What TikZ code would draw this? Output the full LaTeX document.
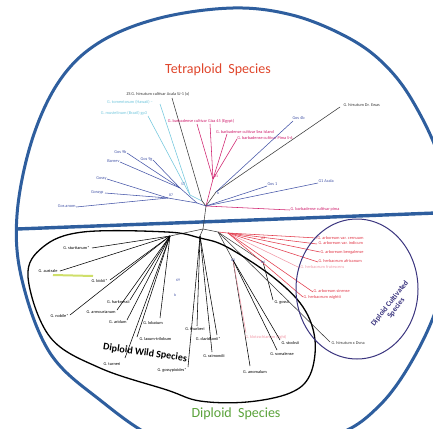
\documentclass[tikz,border=0pt]{standalone}
\usepackage{fontspec}
\setmainfont{Carlito}
\definecolor{bigblue}{HTML}{2E5E9E}
\definecolor{tred}{HTML}{E0462C}
\definecolor{tgreen}{HTML}{5BA33B}
\definecolor{tpurp}{HTML}{3B357F}
\definecolor{tmag}{HTML}{D0206E}
\definecolor{tcyan}{HTML}{72C7DD}
\definecolor{tblue}{HTML}{4555A8}
\definecolor{tgray}{HTML}{3A3A3A}
\definecolor{dred}{HTML}{E23A4A}
\definecolor{tpink}{HTML}{F29AA8}
\definecolor{hlgreen}{HTML}{CFDF6A}
\newcommand\leafx[7]{%
  \coordinate (#1) at (#2);
  \draw[br,draw=#4] (#3) -- (#1);
  \node[lab,text=#4,anchor=#6] (#1t) at (#5) {#7};
}
\begin{document}
\begin{tikzpicture}[x=1pt,y=-1pt,
  br/.style={line width=0.55pt},
  lab/.style={font=\fontsize{4.3}{4.5}\selectfont,inner sep=0.3pt},
  nlab/.style={font=\fontsize{3.8}{4}\selectfont,inner sep=0pt,text=tblue},
  bigline/.style={draw=bigblue,line width=3pt},
  title/.style={font=\fontsize{14}{14}\selectfont}]
\useasboundingbox (0,0) rectangle (433,428);
\clip (0,0) rectangle (433,428);
\fill[white] (0,0) rectangle (433,428);
% outer circle and divider
\draw[bigline] plot[smooth cycle,tension=0.6] coordinates {(233,8) (292,15) (345,36) (382,62) (412,100) (440,160) (450,225) (442,290) (418,350) (380,405) (330,437) (230,455) (160,440) (100,400) (50,353) (22,280) (17,215) (32,140) (60,80) (100,42) (160,18)};
\draw[bigline,line width=3.4pt] (17,229) -- (436,213);
% highlight
\draw[hlgreen,line width=2pt] (53,275) -- (93,276);
% ---------- tree, upper part
\coordinate (T0) at (206,206);
\coordinate (B0) at (203,229);
\coordinate (Tk) at (202,201);
\coordinate (Tc) at (190,195);
\coordinate (Tb1) at (180,188);
\coordinate (Tb2) at (168,198);
\coordinate (Tb) at (197,203);
\coordinate (Tm) at (213,179);
\coordinate (Tr) at (216,192);
\draw[br,tgray] (T0) -- (B0);
\draw[br,tgray] (Tk) -- (T0);
\draw[br,tcyan] (Tc) -- (Tk);
\draw[br,tblue] (Tb1) -- (Tb);
\draw[br,tblue] (Tb2) -- (Tb);
\draw[br,tblue] (Tb) -- (T0);
\draw[br,tmag] (Tm) -- (T0);
\draw[br,tgray] (Tr) -- (T0);
\leafx{k1}{172,98}{Tk}{tgray}{158,94}{center}{ZS G. hirsutum cultivar Acala SJ-1 (x)}
\leafx{c1}{160,104}{Tc}{tcyan}{130,102}{center}{G. tomentosum (Hawaii) --}
\leafx{c2}{148,116}{Tc}{tcyan}{124,113}{center}{G. mustelinum (Brazil) gp3}
\leafx{m1}{197,124}{Tm}{tmag}{201,121}{center}{G. barbadense cultivar Giza 45 (Egypt)}
\coordinate (m2) at (210,124);
\draw[br,tmag] (Tm) -- (m2);
\leafx{m3}{227,134}{Tm}{tmag}{245,132}{center}{G. barbadense cultivar Sea Island}
\leafx{m4}{237,139}{Tm}{tmag}{265,138}{center}{G. barbadense cultivar Pima S-6}
\leafx{b1}{127,153}{Tb1}{tblue}{127,152}{east}{Gos 9b}
\leafx{b2}{120,162}{Tb1}{tblue}{120,161}{east}{Barnev}
\leafx{b3}{153,160}{Tb1}{tblue}{153,159}{east}{Gos 9g}
\leafx{b4}{107,179}{Tb2}{tblue}{107,178}{east}{Gossy}
\leafx{b5}{105,193}{Tb2}{tblue}{104,192}{east}{Gossyp}
\leafx{b6}{76,207}{Tb2}{tblue}{76,206}{east}{Gos anom}
\leafx{r1}{340,107}{Tr}{tgray}{343,105}{west}{G. hirsutum Dr. Ewas}
\leafx{r2}{293,121}{Tr}{tblue}{292,118}{west}{Gos 4b}
\leafx{r3}{267,186}{T0}{tblue}{267,184}{west}{Gos 1}
\leafx{r4}{318,183}{T0}{tblue}{318,181}{west}{G1 Acala}
\leafx{r5}{290,210}{T0}{tmag}{290,209}{west}{G. barbadense cultivar pima}
\node[nlab] (n1) at (183,184) {57};
\node[nlab] (n2) at (171,195) {87};
\node[nlab,text=tmag] (n3) at (216,176) {81};
\node[nlab] (n4) at (218,193) {b};
% ---------- tree, lower part
\coordinate (BL) at (170,236);
\coordinate (BM) at (200,236);
\coordinate (BR) at (218,232);
\coordinate (BRr) at (228,233);
\coordinate (BR2) at (233,260);
\coordinate (BR3) at (263,262);
\draw[br,tgray] (B0) -- (BL);
\draw[br,tgray] (B0) -- (BM);
\draw[br,tgray] (B0) -- (BR);
\draw[br,dred] (BR) -- (BRr);
\draw[br,tgray] (BR) -- (BR2);
\draw[br,tgray] (BR) -- (BR3);
\leafx{d1}{92,248}{BL}{black}{90,248}{east}{G. sturtianum*}
\leafx{d2}{60,271}{BL}{black}{58,271}{east}{G. australe}
\leafx{d3}{110,280}{BL}{black}{108,281}{east}{G. bickii*}
\leafx{d4}{130,300}{BL}{black}{130,302}{east}{G. harknessii}
\leafx{d5}{117,310}{BL}{black}{116,312}{east}{G. armourianum}
\leafx{d6}{70,315}{BL}{black}{69,316}{east}{G. nobile*}
\leafx{d7}{127,320}{BL}{black}{127,322}{east}{G. aridum}
\leafx{d8}{160,318}{BL}{black}{153,323}{center}{G. lobatum}
\leafx{d9}{137,337}{BL}{black}{139,339}{west}{G. laxum-trilobum}
\leafx{d10}{125,358}{BL}{black}{112,364}{center}{G. turneri}
\leafx{d11}{188,367}{BM}{black}{187,370}{east}{G. gossypioides*}
\leafx{e1}{197,326}{BM}{black}{195,329}{center}{G. thurberi}
\leafx{e2}{217,335}{BM}{black}{221,339}{east}{G. davidsonii*}
\leafx{e3}{212,352}{BM}{black}{214,356}{center}{G. raimondii}
\leafx{f1}{250,366}{BR2}{black}{255,372}{center}{G. anomalum}
\leafx{f2}{246,333}{BR2}{tpink}{266,337}{center}{G. klotzschianum (light)}
\leafx{f3}{280,340}{BR2}{black}{281,343}{west}{G. stocksii}
\leafx{f4}{277,350}{BR2}{black}{282,354}{center}{G. somalense}
\leafx{f5}{273,300}{BR3}{black}{274,302}{west}{G. gossii}
\leafx{f6}{330,342}{BR}{tgray}{331,343}{west}{G. hirsutum x Dvna}
\leafx{g1}{317,238}{BRr}{dred}{317,238}{west}{G. arboreum var. cernuum}
\leafx{g2}{317,244}{BRr}{dred}{318,243.5}{west}{G. arboreum var. indicum}
\leafx{g3}{320,252}{BRr}{dred}{320,252}{west}{G. arboreum bengalense}
\leafx{g4}{318,262}{BRr}{dred}{318,261.5}{west}{G. herbaceum africanum}
\leafx{g5}{300,268}{BRr}{tpink}{300,267}{west}{G. herbaceum frutescens}
\leafx{g6}{313,292}{BRr}{dred}{313,291.5}{west}{G. arboreum sinense}
\leafx{g7}{303,297}{BRr}{dred}{303,297}{west}{G. herbaceum wightii}
\node[nlab,text=dred] (n5) at (263,238) {63};
\node[nlab] (n6) at (233,260) {b3};
\node[nlab] (n7) at (263,262) {b4};
\node[nlab] (n8) at (178,280) {69};
\node[nlab] (n9) at (175,295) {b};
% ---------- groups
\draw[black,line width=1.3pt] plot[smooth cycle,tension=0.6] coordinates {(28,277) (43,247) (83,232) (167,232) (200,238) (227,247) (273,277) (303,307) (315,340) (310,375) (290,393) (247,402) (200,401) (167,390) (100,368) (50,337)};
\draw[tpurp,line width=1pt] (357,289) ellipse [x radius=61pt, y radius=70pt];
% ---------- titles
\node[title,text=tred] (tt) at (218,70) {Tetraploid\ \ Species};
\node[title,text=tgreen] (dt) at (236,414) {Diploid\ \ Species};
\node[font=\bfseries\fontsize{10}{10}\selectfont,rotate=-8] (dw) at (145,353) {Diploid Wild Species};
\node[font=\bfseries\fontsize{7.5}{8}\selectfont,text=tpurp,rotate=52,align=center] (dc) at (393,306) {Diploid Cultivated\\Species};
\end{tikzpicture}
\end{document}
